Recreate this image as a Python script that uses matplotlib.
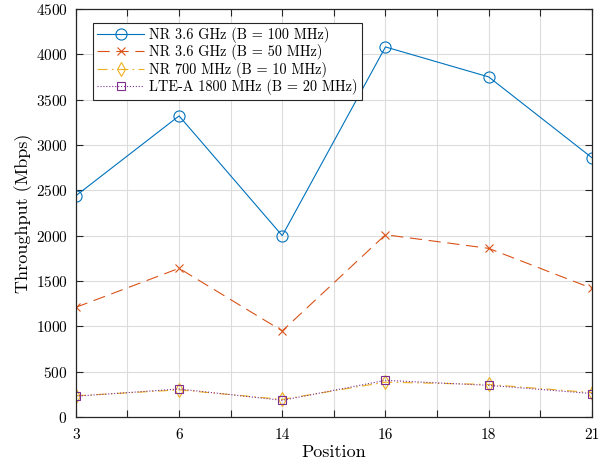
import numpy as np
import matplotlib.pyplot as plt

plt.rcParams['font.family'] = ['cmr10', 'DejaVu Serif']
plt.rcParams['mathtext.fontset'] = 'cm'
plt.rcParams['axes.formatter.use_mathtext'] = True

positions = ['3', '6', '14', '16', '18', '21']
nr36_100 = [2440, 3320, 2000, 4080, 3750, 2860]
nr36_50 = [1210, 1640, 950, 2010, 1860, 1420]
nr700_10 = [235, 300, 195, 385, 360, 270]
lte1800_20 = [230, 310, 185, 405, 350, 260]

labels = ['NR 3.6 GHz (B = 100 MHz)', 'NR 3.6 GHz (B = 50 MHz)',
          'NR 700 MHz (B = 10 MHz)', 'LTE-A 1800 MHz (B = 20 MHz)']

x = np.arange(1, len(positions) + 1)

fig = plt.figure(figsize=(6.12, 4.65), dpi=100)
ax = fig.add_axes([0.124, 0.103, 0.843, 0.878])

lw = 0.8
ax.plot(x, nr36_100, '-', color='#0072BD', lw=lw, marker='o', ms=8,
        mfc='none', mew=0.8, label=labels[0])
ax.plot(x, nr36_50, '--', color='#D95319', lw=lw, marker='x', ms=6,
        mew=0.8, dashes=(11, 6), label=labels[1])
ax.plot(x, nr700_10, '-.', color='#EDB120', lw=lw, marker='d', ms=7,
        mfc='none', mew=0.8, dashes=(9, 4, 1.5, 4), label=labels[2])
ax.plot(x, lte1800_20, ':', color='#7E2F8E', lw=lw, marker='s', ms=6,
        mfc='none', mew=0.8, label=labels[3])

ax.set_xlim(1, 6)
ax.set_ylim(0, 4500)
ax.set_xticks(x)
ax.set_xticklabels(positions)
ax.set_xticks(np.arange(1.5, 6, 1.0), minor=True)
ax.set_yticks(np.arange(0, 4501, 500))

ax.grid(True, which='both', color='#dcdcdc', lw=0.8)
ax.set_axisbelow(True)
ax.tick_params(which='both', direction='in', top=True, right=True,
               length=5, width=0.8, color='#262626', labelsize=11)
ax.tick_params(axis='x', pad=8)
ax.tick_params(axis='y', pad=6)
for s in ax.spines.values():
    s.set_color('#262626')
    s.set_linewidth(0.9)

ax.set_xlabel('Position', fontsize=13, labelpad=2)
ax.set_ylabel('Throughput (Mbps)', fontsize=13, labelpad=2)

leg = ax.legend(loc='upper left', bbox_to_anchor=(0.033, 0.966),
                fontsize=10.3, handlelength=3.3, handletextpad=0.35,
                borderpad=0.3, labelspacing=0.1, fancybox=False,
                framealpha=1, edgecolor='#262626', borderaxespad=0)
leg.get_frame().set_linewidth(0.8)

fig.savefig('out.png', dpi=100)
